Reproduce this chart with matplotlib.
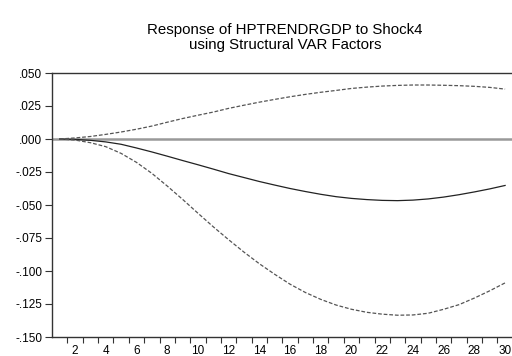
import numpy as np
import matplotlib.pyplot as plt
from matplotlib.ticker import FixedLocator, FuncFormatter

periods = np.arange(1, 31)
response = [0.0000, -0.0003, -0.0010, -0.0022, -0.0040, -0.0068, -0.0098, -0.0130,
            -0.0163, -0.0195, -0.0228, -0.0262, -0.0292, -0.0322, -0.0349, -0.0375,
            -0.0398, -0.0419, -0.0437, -0.0450, -0.0459, -0.0465, -0.0467, -0.0463,
            -0.0454, -0.0440, -0.0422, -0.0401, -0.0378, -0.0352]
upper = [0.0000, 0.0008, 0.0019, 0.0035, 0.0053, 0.0074, 0.0098, 0.0127,
         0.0155, 0.0180, 0.0204, 0.0232, 0.0256, 0.0279, 0.0300, 0.0320,
         0.0338, 0.0354, 0.0368, 0.0383, 0.0393, 0.0401, 0.0406, 0.0409,
         0.0409, 0.0407, 0.0404, 0.0399, 0.0391, 0.0378]
lower = [0.0000, -0.0008, -0.0028, -0.0058, -0.0109, -0.0177, -0.0260, -0.0356,
         -0.0457, -0.0562, -0.0665, -0.0763, -0.0857, -0.0945, -0.1025, -0.1100,
         -0.1163, -0.1215, -0.1258, -0.1290, -0.1313, -0.1327, -0.1335, -0.1333,
         -0.1320, -0.1290, -0.1255, -0.1205, -0.1150, -0.1090]
yticks = [0.050, 0.025, 0.0, -0.025, -0.050, -0.075, -0.100, -0.125, -0.150]
title = "Response of HPTRENDRGDP to Shock4\nusing Structural VAR Factors"

plt.rcParams['font.family'] = ['Liberation Sans', 'DejaVu Sans']

fig = plt.figure(figsize=(5.12, 3.56), dpi=100)
ax = fig.add_axes([52/512, 19/356, 1 - 52/512, (337-73)/356])

ax.axhline(0, color='#999999', lw=1.8, zorder=1)
ax.plot(periods, response, color='#222222', lw=0.9, zorder=3)
ax.plot(periods, upper, color='#555555', lw=0.9, ls=(0, (3, 1.5)), zorder=3)
ax.plot(periods, lower, color='#555555', lw=0.9, ls=(0, (3, 1.5)), zorder=3)

ax.set_xlim(0.5, 30.45)
ax.set_ylim(-0.150, 0.050)

# labels on even periods, ticks between periods
ax.xaxis.set_major_locator(FixedLocator(np.arange(2, 31, 2)))
ax.xaxis.set_minor_locator(FixedLocator(np.arange(1.5, 30.5, 1)))
ax.tick_params(axis='x', which='major', length=0, pad=6, labelsize=8.5)
ax.tick_params(axis='x', which='minor', length=4.5, width=0.8, color='#333333', direction='out')

def fmt(v, pos):
    s = "%.3f" % v
    if s.startswith("-0"):
        return "-" + s[2:]
    if s.startswith("0"):
        return s[1:]
    return s

ax.yaxis.set_major_locator(FixedLocator(yticks))
ax.yaxis.set_major_formatter(FuncFormatter(fmt))
ax.tick_params(axis='y', length=5, width=0.8, color='#333333', labelsize=8.5, pad=2)

for s in ['left', 'bottom', 'top']:
    ax.spines[s].set_color('#333333')
    ax.spines[s].set_linewidth(1.0)
ax.spines['right'].set_visible(False)

fig.text(285/512, 1 - 23/356, title, ha='center', va='top', fontsize=10.8, linespacing=1.05)

fig.savefig('out.png', dpi=100)
